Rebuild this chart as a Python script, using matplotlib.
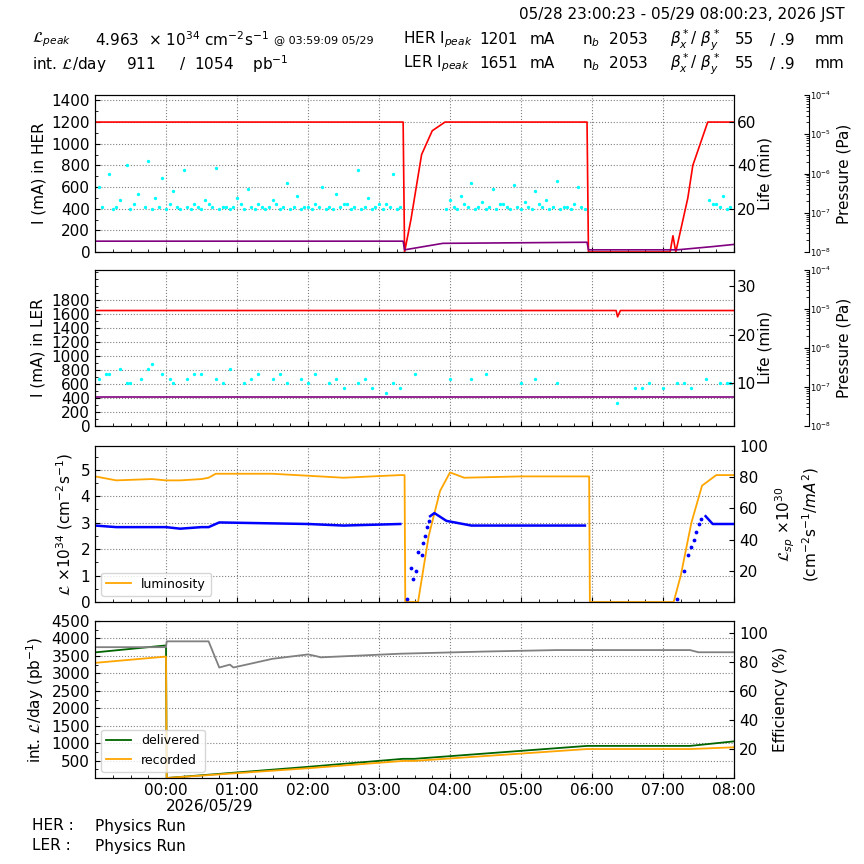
import matplotlib
matplotlib.use("Agg")
import matplotlib.pyplot as plt
import numpy as np
from matplotlib.ticker import AutoMinorLocator

# time in hours since 23:00:23
her_t = [0, 4.34, 4.36, 4.45, 4.6, 4.75, 4.93, 6.93, 6.95, 8.1, 8.14, 8.18, 8.35, 8.42, 8.63, 9.0]
her_i = [1200, 1200, 0, 300, 900, 1120, 1200, 1200, 0, 0, 150, 0, 500, 800, 1200, 1200]
her_p_t = [0, 4.34, 4.36, 4.9, 6.93, 6.95, 8.2, 8.7, 9.0]
her_p = [100, 100, 20, 80, 90, 20, 20, 50, 70]
her_life_t = [0.05,0.2,0.35,0.45,0.6,0.75,0.85,0.95,1.1,1.25,1.4,1.55,1.7,1.85,2.0,2.15,2.3,2.5,2.7,2.85,3.0,3.2,3.4,3.55,3.7,3.85,4.0,4.2,
              5.0,5.15,5.3,5.45,5.6,5.75,5.9,6.05,6.2,6.35,6.5,6.65,6.8,8.65,8.75,8.85,8.95,
              0.1,0.25,0.3,0.5,0.55,0.7,0.8,0.9,1.0,1.05,1.15,1.2,1.3,1.35,1.45,1.5,1.6,1.65,1.75,1.8,1.9,1.95,2.05,2.1,2.2,2.25,
              2.35,2.4,2.45,2.55,2.6,2.65,2.75,2.8,2.9,2.95,3.05,3.1,3.15,3.25,3.3,3.35,3.45,3.5,3.6,3.65,3.75,3.8,3.9,3.95,4.05,4.1,4.15,4.25,4.3,
              4.95,5.05,5.1,5.2,5.25,5.35,5.4,5.5,5.55,5.65,5.7,5.8,5.85,5.95,6.0,6.1,6.15,6.25,6.3,6.4,6.45,6.55,6.6,6.7,6.75,6.85,6.9,8.7,8.8,8.9]
her_life = [30,36,24,40,27,42,25,34,28,38,22,24,39,21,25,29,22,24,32,26,21,30,27,22,38,25,22,36,
            24,26,32,23,29,22,31,23,28,24,33,21,30,24,22,26,21,
            21,20,21,20,22,21,20,21,20,22,21,20,21,20,21,20,22,21,20,21,20,21,22,20,21,20,
            21,20,21,22,20,21,20,21,20,21,20,22,21,20,21,20,21,22,20,21,20,21,20,21,20,22,21,20,21,
            20,21,20,22,21,20,21,20,21,20,22,21,20,21,20,21,20,22,21,20,21,20,21,20,22,21,20,22,21,20]
ler_t = [0, 7.34, 7.36, 7.4, 9.0]
ler_i = [1650, 1650, 1560, 1650, 1650]
ler_p_t = [0, 9.0]
ler_p = [420, 420]
ler_life_t = [0.05,0.2,0.35,0.5,0.65,0.8,0.95,1.1,1.3,1.5,1.7,1.9,2.1,2.3,2.5,2.7,2.9,3.1,3.3,3.5,3.7,3.9,4.1,4.3,4.5,5.0,5.5,6.0,6.2,
              7.35,7.6,7.8,8.0,8.2,8.4,8.6,8.8,8.95,
              0.15,0.45,0.75,1.05,1.4,1.8,2.2,2.6,3.0,3.4,3.8,4.2,5.3,6.5,7.7,8.3,8.9]
ler_life = [11,12,13,10,11,14,12,10,11,12,11,13,10,12,11,10,11,12,10,9,10,9,8,9,12,11,12,10,11,
            6,9,10,9,10,9,11,10,10,
            12,10,13,11,12,10,11,12,10,11,11,10,11,10,9,10,10]
lum_t = [0, 0.3, 0.8, 1.0, 1.2, 1.5, 1.6, 1.7, 2.5, 3.5, 4.3, 4.36, 4.37, 4.55, 4.7, 4.86, 5.0, 5.2, 6.0, 6.9, 6.96, 6.97, 8.15, 8.25, 8.4, 8.55, 8.75, 9.0]
lum = [4.75, 4.6, 4.65, 4.6, 4.6, 4.65, 4.7, 4.85, 4.85, 4.7, 4.8, 4.8, 0, 0, 2.5, 4.2, 4.9, 4.7, 4.75, 4.75, 4.75, 0, 0, 1.0, 3.0, 4.4, 4.8, 4.8]
sp_t = [0, 0.3, 1.0, 1.2, 1.5, 1.6, 1.75, 3.0, 3.5, 4.3, 4.36, 4.72, 4.78, 4.95, 5.3, 6.9, 6.92, 8.55, 8.6, 8.7, 9.0]
sp = [49, 48, 48, 47, 48, 48, 51, 50, 49, 50, np.nan, 55, 57, 52, 49, 49, np.nan, np.nan, 55, 50, 50]
sp_ramp_t = [4.4, 4.45, 4.48, 4.52, 4.55, 4.6, 4.62, 4.65, 4.68, 4.7, 8.2, 8.3, 8.35, 8.4, 8.43, 8.46, 8.5, 8.53]
sp_ramp = [2, 22, 15, 20, 32, 30, 38, 42, 48, 52, 2, 20, 30, 35, 40, 45, 50, 53]
del_t = [0, 1.0, 1.01, 3.0, 4.34, 4.5, 6.93, 8.38, 9.0]
dlv = [3600, 3800, 0, 320, 550, 550, 920, 920, 1050]
rec_t = [0, 1.0, 1.01, 3.0, 4.34, 4.5, 6.93, 8.38, 9.0]
rec = [3300, 3480, 0, 280, 490, 490, 830, 830, 880]
eff_t = [0, 1.0, 1.01, 1.6, 1.75, 1.9, 1.95, 2.5, 3.0, 3.1, 3.18, 4.3, 5.5, 6.5, 8.38, 8.5, 9.0]
eff = [90, 90, 94, 94, 76, 78, 76, 82, 85, 84, 83, 85.5, 87, 88, 88, 86.5, 86.5]
hours = ["00:00", "01:00", "02:00", "03:00", "04:00", "05:00", "06:00", "07:00", "08:00"]

W = 864
fig = plt.figure(figsize=(8.64, 8.64), dpi=100)
L, R = 95 / W, 734 / W
rows = [(95, 252), (270, 426), (446, 602), (621, 778)]
axes = []
for top, bot in rows:
    ax = fig.add_axes([L, 1 - bot / W, R - L, (bot - top) / W])
    ax.set_xlim(0, 9)
    ax.set_xticks(np.arange(1, 10))
    ax.xaxis.set_minor_locator(AutoMinorLocator(4))
    ax.yaxis.set_minor_locator(AutoMinorLocator(2))
    ax.tick_params(direction="in", which="both", top=False, labelsize=11)
    ax.grid(True, linestyle=":", color="gray", linewidth=0.8)
    ax.set_xticklabels([])
    axes.append(ax)

def press_axis(ax):
    p = ax.twinx()
    p.spines["right"].set_position(("outward", 54))
    p.set_yscale("log")
    p.set_ylim(1e-8, 1e-4)
    p.tick_params(direction="in", which="both", labelsize=6, pad=1)
    p.set_ylabel("Pressure (Pa)", fontsize=11)
    p.yaxis.set_label_coords(1.161, 0.5)
    for s in ["top", "left", "bottom"]:
        p.spines[s].set_visible(False)
    return p

# panel 1
ax = axes[0]
ax.plot(her_t, her_i, color="red", lw=1.2)
ax.plot(her_p_t, her_p, color="purple", lw=1.2)
ax.set_ylim(0, 1450)
ax.set_yticks(range(0, 1401, 200))
ax.set_ylabel("I (mA) in HER", fontsize=11)
r = ax.twinx(); r.set_ylim(0, 72.5); r.set_yticks([20, 40, 60])
r.scatter(her_life_t, her_life, s=2, color="cyan")
r.tick_params(direction="in", labelsize=11, pad=2); r.set_ylabel("Life (min)", fontsize=11, labelpad=1)
press_axis(ax)

# panel 2
ax = axes[1]
ax.plot(ler_t, ler_i, color="red", lw=1.2)
ax.plot(ler_p_t, ler_p, color="purple", lw=1.2)
ax.set_ylim(0, 2229)
ax.set_yticks(range(0, 1801, 200))
ax.set_ylabel("I (mA) in LER", fontsize=11)
r = ax.twinx(); r.set_ylim(1.2, 33.4); r.set_yticks([10, 20, 30])
r.scatter(ler_life_t, ler_life, s=2, color="cyan")
r.tick_params(direction="in", labelsize=11, pad=2); r.set_ylabel("Life (min)", fontsize=11, labelpad=1)
press_axis(ax)

# panel 3
ax = axes[2]
ax.plot(lum_t, lum, color="orange", lw=1.3, label="luminosity")
ax.set_ylim(0, 5.9)
ax.set_yticks(range(0, 6))
ax.set_ylabel(r"$\mathcal{L}$ $\times10^{34}$ (cm$^{-2}$s$^{-1}$)", fontsize=11)
ax.legend(loc="lower left", fontsize=9)
r = ax.twinx(); r.set_ylim(0, 100); r.set_yticks([20, 40, 60, 80, 100])
r.plot(sp_t, sp, color="blue", lw=1.8)
r.scatter(sp_ramp_t, sp_ramp, s=3, color="blue")
r.tick_params(direction="in", labelsize=11)
r.set_ylabel(r"$\mathcal{L}_{sp}$ $\times10^{30}$" "\n" r"(cm$^{-2}$s$^{-1}/mA^2$)", fontsize=11)

# panel 4
ax = axes[3]
ax.plot(del_t, dlv, color="darkgreen", lw=1.3, label="delivered")
ax.plot(rec_t, rec, color="orange", lw=1.3, label="recorded")
ax.set_ylim(0, 4500)
ax.set_yticks(range(500, 4501, 500))
ax.set_ylabel(r"int. $\mathcal{L}$/day (pb$^{-1}$)", fontsize=11)
ax.legend(loc="lower left", fontsize=9)
ax.set_xticklabels(hours)
r = ax.twinx(); r.set_ylim(0, 108); r.set_yticks([20, 40, 60, 80, 100])
r.plot(eff_t, eff, color="gray", lw=1.3)
r.tick_params(direction="in", labelsize=11); r.set_ylabel("Efficiency (%)", fontsize=11)

fs = 11
fig.text(845 / W, 1 - 15 / W, "05/28 23:00:23 - 05/29 08:00:23, 2026 JST", ha="right", va="center", fontsize=fs)
y1, y2 = 1 - 40 / W, 1 - 64 / W
fig.text(32 / W, y1, r"$\mathcal{L}_{peak}$", va="center", fontsize=fs)
fig.text(95 / W, y1, r"4.963  $\times$ 10$^{34}$ cm$^{-2}$s$^{-1}$", va="center", fontsize=fs)
fig.text(274 / W, y1, "@ 03:59:09 05/29", va="center", fontsize=8)
fig.text(32 / W, y2, r"int. $\mathcal{L}$/day", va="center", fontsize=fs)
fig.text(126 / W, y2, "911     /  1054    pb$^{-1}$", va="center", fontsize=fs)
for y, nm, cur in [(y1, "HER", "1201"), (y2, "LER", "1651")]:
    fig.text(403 / W, y, nm + r" I$_{peak}$", va="center", fontsize=fs)
    fig.text(479 / W, y, cur, va="center", fontsize=fs)
    fig.text(530 / W, y, "mA", va="center", fontsize=fs)
    fig.text(582 / W, y, r"n$_b$  2053", va="center", fontsize=fs)
    fig.text(670 / W, y, r"$\beta^*_x$/ $\beta^*_y$", va="center", fontsize=fs)
    fig.text(735 / W, y, "55", va="center", fontsize=fs)
    fig.text(770 / W, y, "/ .9", va="center", fontsize=fs)
    fig.text(815 / W, y, "mm", va="center", fontsize=fs)
fig.text(166 / W, 1 - 806 / W, "2026/05/29", va="center", fontsize=fs)
fig.text(32 / W, 1 - 826 / W, "HER :", va="center", fontsize=fs)
fig.text(95 / W, 1 - 826 / W, "Physics Run", va="center", fontsize=fs)
fig.text(32 / W, 1 - 846 / W, "LER :", va="center", fontsize=fs)
fig.text(95 / W, 1 - 846 / W, "Physics Run", va="center", fontsize=fs)
fig.savefig("out.png", dpi=100)
